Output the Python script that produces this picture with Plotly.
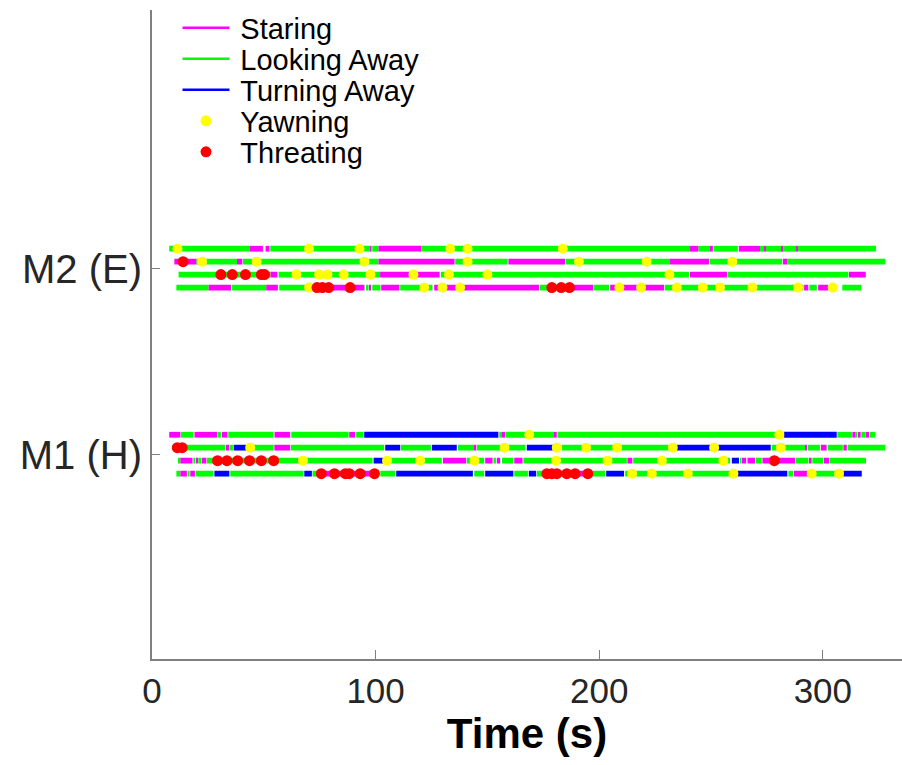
import plotly.graph_objects as go

# ---------------- data ----------------
STATE_NAMES = {"S": "Staring", "L": "Looking Away", "T": "Turning Away"}
STATE_COLORS = {"S": "#FF00FF", "L": "#00FF00", "T": "#0000FF"}

MONKEY_LABELS = ["M1 (H)", "M2 (E)"]
MONKEY_POS = [1, 2]

X_TICKS = [0, 100, 200, 300]

# segments per row: (start s, end s, state)
M2_ROW1 = [(7.7, 43.6, "L"), (43.6, 49.6, "S"), (50.8, 52.6, "S"), (52.9, 97.3, "L"),
           (97.3, 98.2, "S"), (98.5, 101.3, "L"), (101.3, 120.4, "S"), (120.4, 240.6, "L"),
           (240.6, 244.3, "S"), (244.3, 249.3, "L"), (249.3, 250.8, "S"), (251.1, 262.0, "L"),
           (262.4, 271.9, "S"), (271.9, 273.4, "L"), (273.4, 274.6, "S"), (274.6, 281.6, "L"),
           (281.6, 282.3, "S"), (282.3, 287.7, "L"), (287.7, 288.9, "S"), (288.9, 323.8, "L")]
M2_ROW2 = [(10.0, 19.8, "S"), (19.8, 38.0, "L"), (38.0, 40.4, "S"), (40.7, 101.3, "L"),
           (101.3, 135.3, "S"), (135.6, 159.1, "L"), (159.4, 184.8, "S"), (185.1, 231.4, "L"),
           (231.4, 249.1, "S"), (249.4, 281.8, "L"), (282.1, 284.1, "S"), (284.1, 327.9, "L")]
M2_ROW3 = [(11.9, 53.0, "L"), (53.0, 56.1, "S"), (56.6, 102.0, "L"), (102.0, 128.6, "S"),
           (129.2, 240.2, "L"), (240.6, 257.3, "S"), (257.6, 311.4, "L"), (311.7, 319.2, "S")]
M2_ROW4 = [(10.9, 25.3, "L"), (25.3, 35.4, "S"), (35.8, 51.1, "L"), (51.1, 56.3, "S"),
           (56.9, 68.7, "L"), (69.3, 95.0, "S"), (96.1, 96.8, "L"), (97.3, 97.9, "S"),
           (98.5, 102.1, "L"), (102.5, 110.7, "S"), (111.0, 125.4, "L"), (126.2, 173.1, "S"),
           (173.4, 182.5, "L"), (182.5, 197.4, "S"), (197.7, 204.4, "L"), (204.9, 229.0, "S"),
           (229.3, 291.3, "L"), (291.6, 293.5, "S"), (294.0, 297.3, "L"), (297.9, 302.5, "S"),
           (308.7, 317.2, "L")]

M1_ROW1 = [(7.7, 12.7, "S"), (13.0, 18.6, "L"), (19.0, 29.1, "S"), (29.3, 30.8, "L"),
           (31.3, 33.8, "S"), (34.1, 54.4, "L"), (54.8, 61.8, "S"), (62.3, 87.9, "L"),
           (88.2, 90.9, "S"), (91.3, 94.6, "L"), (94.9, 154.9, "T"), (155.3, 156.5, "L"),
           (156.5, 158.0, "S"), (158.2, 179.8, "L"), (180.2, 181.0, "S"), (181.3, 282.3, "L"),
           (282.7, 306.2, "T"), (306.5, 313.0, "L"), (313.2, 314.4, "S"), (314.7, 315.4, "L"),
           (315.7, 316.9, "S"), (317.2, 319.2, "L"), (319.3, 320.7, "S"), (321.1, 323.5, "L")]
M1_ROW2 = [(10.0, 32.8, "L"), (33.1, 34.6, "S"), (34.9, 36.2, "L"), (36.5, 42.2, "T"),
           (42.5, 54.4, "L"), (54.7, 61.8, "S"), (62.1, 103.8, "L"), (104.3, 111.0, "T"),
           (111.3, 124.7, "L"), (125.2, 136.3, "T"), (136.8, 144.1, "L"), (144.4, 145.0, "S"),
           (145.3, 166.9, "L"), (167.6, 182.5, "T"), (183.3, 234.7, "L"), (234.7, 276.7, "T"),
           (277.2, 292.0, "L"), (292.4, 292.8, "S"), (293.3, 298.7, "L"), (299.1, 301.7, "S"),
           (302.2, 308.9, "L"), (309.2, 310.7, "S"), (311.1, 327.8, "L")]
M1_ROW3 = [(11.9, 12.7, "L"), (12.7, 18.1, "S"), (18.5, 19.4, "L"), (19.7, 20.4, "S"),
           (20.7, 21.9, "L"), (22.2, 24.3, "S"), (24.6, 98.6, "L"), (99.1, 103.3, "T"),
           (103.5, 129.6, "L"), (130.1, 140.5, "S"), (140.8, 148.5, "L"), (149.0, 152.3, "S"),
           (152.7, 153.8, "L"), (154.2, 155.7, "S"), (156.5, 161.6, "L"), (162.0, 165.7, "S"),
           (166.1, 212.3, "L"), (212.6, 214.8, "S"), (215.2, 258.5, "L"), (259.3, 262.5, "T"),
           (263.0, 263.4, "L"), (263.7, 265.7, "S"), (266.3, 269.7, "S"), (270.1, 272.7, "L"),
           (273.0, 287.6, "S"), (287.9, 293.5, "L"), (293.8, 295.0, "S"), (295.3, 300.2, "L"),
           (300.5, 302.9, "S"), (303.2, 319.3, "L")]
M1_ROW4 = [(10.9, 12.7, "L"), (12.7, 15.6, "S"), (15.9, 16.8, "L"), (17.1, 19.2, "S"),
           (19.5, 27.5, "L"), (27.9, 34.6, "T"), (35.0, 67.8, "L"), (68.1, 71.5, "T"),
           (71.8, 73.8, "L"), (73.8, 101.3, "S"), (102.1, 108.8, "L"), (109.2, 143.5, "T"),
           (144.1, 148.5, "L"), (149.0, 161.6, "T"), (162.0, 168.1, "L"), (168.5, 171.8, "T"),
           (172.1, 174.8, "L"), (175.1, 196.7, "S"), (197.0, 202.6, "L"), (203.1, 211.1, "T"),
           (211.6, 261.5, "L"), (261.8, 284.1, "T"), (284.6, 286.8, "L"), (287.1, 294.3, "S"),
           (294.6, 308.7, "L"), (309.2, 317.4, "T")]

# yawning events (s) per row
M2_YAWN = [[11.4, 70.2, 92.8, 133.3, 141.1, 183.7],
           [22.4, 46.8, 95.0, 141.1, 190.9, 221.2, 259.5],
           [64.6, 74.7, 78.5, 85.7, 97.7, 116.9, 132.8, 150.0, 231.4],
           [70.2, 121.7, 129.9, 137.8, 209.0, 218.7, 234.7, 246.3, 254.0, 268.5, 288.9, 304.4]]
M1_YAWN = [[168.7, 280.5],
           [43.9, 157.6, 181.0, 194.1, 208.0, 232.9, 251.4, 281.2],
           [67.5, 105.1, 119.9, 144.2, 180.7, 203.7, 228.0, 255.5],
           [214.7, 223.5, 239.6, 260.0, 295.0, 307.2]]

# threatening events (s) per row
M2_THREAT = [[],
             [13.9],
             [30.8, 35.9, 41.8, 48.9, 50.3],
             [73.8, 76.2, 79.0, 88.6, 178.8, 183.0, 186.7]]
M1_THREAT = [[],
             [11.3, 13.5],
             [29.3, 33.5, 38.3, 43.6, 48.9, 54.4, 278.3],
             [75.7, 81.6, 86.5, 88.2, 93.1, 99.5, 176.6, 178.8, 181.0, 185.5, 189.2, 194.9]]

# ---------------- build ----------------
ROW_OFFSETS = [0.1086, 0.0392, -0.0306, -0.1005]
BAR_W = 0.031

rows = []  # (ypos, segs, yawns, threats)
for base, segs_list, yawn_list, thr_list in [
        (2, [M2_ROW1, M2_ROW2, M2_ROW3, M2_ROW4], M2_YAWN, M2_THREAT),
        (1, [M1_ROW1, M1_ROW2, M1_ROW3, M1_ROW4], M1_YAWN, M1_THREAT)]:
    for k in range(4):
        rows.append((base + ROW_OFFSETS[k], segs_list[k], yawn_list[k], thr_list[k]))

fig = go.Figure()

for code in ["L", "S", "T"]:
    ys, bases, lens = [], [], []
    for ypos, segs, _, _ in rows:
        for s, e, st in segs:
            if st == code:
                ys.append(ypos)
                bases.append(s)
                lens.append(e - s)
    fig.add_trace(go.Bar(orientation="h", y=ys, x=lens, base=bases, width=BAR_W,
                         marker=dict(color=STATE_COLORS[code], line=dict(width=0)),
                         showlegend=False, hoverinfo="skip"))

yx, yy, tx, ty = [], [], [], []
for ypos, _, yawns, thr in rows:
    for t in yawns:
        yx.append(t); yy.append(ypos)
    for t in thr:
        tx.append(t); ty.append(ypos)

fig.add_trace(go.Scatter(x=yx, y=yy, mode="markers", showlegend=False,
                         marker=dict(color="#FFFF00", size=10, line=dict(width=0))))
fig.add_trace(go.Scatter(x=tx, y=ty, mode="markers", showlegend=False,
                         marker=dict(color="#FF0000", size=11, line=dict(width=0))))

# legend entries, each in its own legend box so spacing can match
LEG_IDS = ["legend", "legend2", "legend3", "legend4", "legend5"]
PAD = "\u2009"
for i, code in enumerate(["S", "L", "T"]):
    fig.add_trace(go.Scatter(x=[None], y=[None], mode="lines", name=PAD + STATE_NAMES[code],
                             legend=LEG_IDS[i],
                             line=dict(color=STATE_COLORS[code], width=2.5)))
fig.add_trace(go.Scatter(x=[None], y=[None], mode="markers", name=PAD + "Yawning",
                         legend=LEG_IDS[3], marker=dict(color="#FFFF00", size=11)))
fig.add_trace(go.Scatter(x=[None], y=[None], mode="markers", name=PAD + "Threating",
                         legend=LEG_IDS[4], marker=dict(color="#FF0000", size=11)))

PLOT_TOP = 10
PLOT_H = 649
LEG_CENTERS_PX = [28, 59, 90, 121, 152]
legends = {}
for lid, cpx in zip(LEG_IDS, LEG_CENTERS_PX):
    legends[lid] = dict(x=0.034, y=1 - (cpx - PLOT_TOP) / PLOT_H, xanchor="left",
                        yanchor="middle", font=dict(size=29, color="#000000"),
                        bgcolor="rgba(0,0,0,0)", itemwidth=47)

fig.update_layout(
    width=902, height=765,
    margin=dict(l=152, r=0, t=PLOT_TOP, b=106),
    paper_bgcolor="white", plot_bgcolor="white",
    barmode="overlay",
    font=dict(family="Liberation Sans, Arial, sans-serif", color="#262626"),
    xaxis=dict(range=[0, 335.4], tickvals=X_TICKS, ticks="inside", ticklen=9,
               tickcolor="#808080", tickwidth=1, showline=True, linecolor="#808080",
               linewidth=2, showgrid=False, zeroline=False,
               tickfont=dict(size=35, color="#262626"),
               title=dict(text="<b>Time (s)</b>", font=dict(size=42, color="#000000"),
                          standoff=2)),
    yaxis=dict(range=[-0.097, 3.392], tickvals=MONKEY_POS, ticktext=MONKEY_LABELS,
               ticks="inside", ticklen=8, tickcolor="#808080", tickwidth=1,
               showline=True, linecolor="#808080", linewidth=2, showgrid=False,
               zeroline=False, tickfont=dict(size=40, color="#262626")),
    **legends,
)

fig.write_html("out.html")
